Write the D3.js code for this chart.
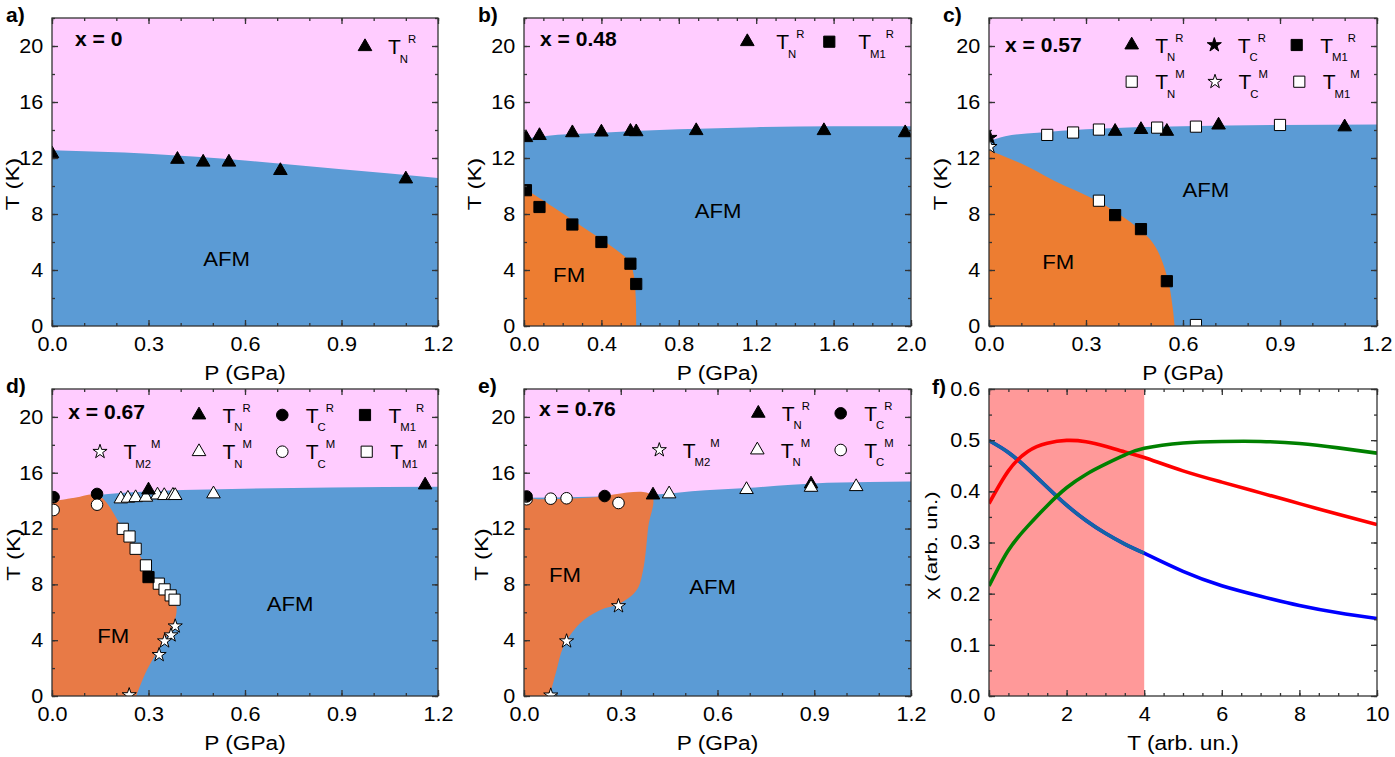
<!DOCTYPE html>
<html>
<head>
<meta charset="utf-8">
<script src="https://cdn.jsdelivr.net/npm/d3@7"></script>
<style>
  body { margin: 0; background: #fff; }
  svg text { font-family: "Liberation Sans", Arial, sans-serif; fill: #000; }
</style>
</head>
<body>
<svg id="fig" width="1395" height="757"></svg>
<script>
// ---- data: [P (GPa), T (K)] ----
// a) x = 0
const aTN_R = [[0, 12.3], [0.39, 11.9], [0.47, 11.7], [0.55, 11.7], [0.71, 11.1], [1.10, 10.5]];
const aAFM = [[0, 12.55], [0.3, 12.3], [0.6, 11.82], [0.9, 11.2], [1.2, 10.58]];

// b) x = 0.48
const bTN_R = [[0.01, 13.45], [0.08, 13.6], [0.25, 13.8], [0.40, 13.85], [0.55, 13.9], [0.58, 13.87], [0.89, 13.95], [1.55, 13.95], [1.97, 13.8]];
const bTM1_R = [[0.01, 9.7], [0.08, 8.5], [0.25, 7.25], [0.40, 6.0], [0.55, 4.45], [0.58, 3.0]];
const bAFM = [[0, 13.35], [0.1, 13.55], [0.4, 13.8], [0.8, 14.05], [1.2, 14.2], [1.6, 14.27], [2.0, 14.27]];
const bFM = [[0, 9.85], [0.25, 7.58], [0.5, 5.2], [0.548, 4.5], [0.569, 3.5], [0.578, 1.86], [0.58, 0]];

// c) x = 0.57
const cTN_R = [[0.39, 13.9], [0.47, 14.03], [0.55, 13.9], [0.71, 14.35], [1.10, 14.22]];
const cTC_R = [[0.003, 13.45]];
const cTM1_R = [[0.39, 7.92], [0.47, 6.92], [0.55, 3.2]];
const cTN_M = [[0.18, 13.65], [0.26, 13.82], [0.34, 14.03], [0.52, 14.17], [0.64, 14.24], [0.90, 14.36]];
const cTC_M = [[0.003, 12.8]];
const cTM1_M = [[0.34, 8.95], [0.64, 0.07]];
const cAFM = [[0, 13.2], [0.05, 13.55], [0.15, 13.8], [0.3, 14.05], [0.6, 14.27], [0.9, 14.36], [1.2, 14.4]];
const cFM = [[0, 12.56], [0.1, 11.6], [0.2, 10.4], [0.34, 8.87], [0.45, 7.2], [0.5, 6.14], [0.53, 4.95], [0.556, 3.04], [0.569, 1.14], [0.574, 0]];

// d) x = 0.67
const dTN_R = [[0.30, 14.76], [1.16, 15.12]];
const dTC_R = [[0.005, 14.25], [0.14, 14.48]];
const dTM1_R = [[0.30, 8.52]];
const dTM2_M = [[0.383, 5.0], [0.37, 4.36], [0.35, 3.93], [0.333, 2.95], [0.24, 0.07]];
const dTN_M = [[0.214, 14.12], [0.236, 14.17], [0.26, 14.21], [0.292, 14.24], [0.328, 14.4], [0.349, 14.36], [0.376, 14.38], [0.383, 14.36], [0.502, 14.48]];
const dTC_M = [[0.005, 13.33], [0.14, 13.71]];
const dTM1_M = [[0.22, 11.98], [0.241, 11.43], [0.26, 10.55], [0.292, 9.36], [0.332, 8.05], [0.35, 7.64], [0.369, 7.21], [0.381, 6.9]];
const dAFM = [[0, 13.9], [0.1, 14.28], [0.25, 14.6], [0.56, 14.83], [0.87, 14.95], [1.2, 15.0]];
const dFM = [[0, 13.92], [0.07, 14.2], [0.144, 14.38], [0.22, 12.0], [0.26, 10.55], [0.292, 9.36], [0.332, 8.05], [0.37, 7.2], [0.387, 6.4], [0.378, 5.19], [0.336, 3.52], [0.295, 1.86], [0.262, 0]];

// e) x = 0.76
const eTN_R = [[0.40, 14.4], [0.89, 15.19]];
const eTC_R = [[0.008, 14.3], [0.25, 14.33]];
const eTM2_M = [[0.083, 0.05], [0.132, 3.93], [0.293, 6.45]];
const eTN_M = [[0.45, 14.48], [0.69, 14.79], [0.89, 14.95], [1.03, 15.0]];
const eTC_M = [[0.008, 14.1], [0.083, 14.14], [0.132, 14.17], [0.293, 13.83]];
const eAFM = [[0, 14.2], [0.4, 14.42], [0.52, 14.67], [0.69, 14.9], [0.83, 15.14], [0.94, 15.29], [1.2, 15.38]];
const eFM = [[0, 14.25], [0.05, 14.1], [0.2, 14.2], [0.395, 14.4], [0.385, 12.1], [0.369, 9.0], [0.349, 7.57], [0.297, 6.62], [0.235, 6.14], [0.173, 5.19], [0.122, 3.52], [0.101, 1.86], [0.08, 0]];

// f) model susceptibility
const fT = [0, 0.5, 1, 1.5, 2, 2.5, 3, 3.5, 4, 5, 6, 7, 8, 9, 10];
const fRed = [0.376, 0.44, 0.478, 0.494, 0.4995, 0.497, 0.488, 0.477, 0.466, 0.44, 0.418, 0.397, 0.376, 0.355, 0.335];
const fGreen = [0.215, 0.285, 0.332, 0.372, 0.407, 0.433, 0.453, 0.471, 0.484, 0.4945, 0.4975, 0.4975, 0.4935, 0.485, 0.4746];
const fBlue = [0.4994, 0.476, 0.444, 0.408, 0.373, 0.343, 0.318, 0.297, 0.279, 0.2435, 0.2155, 0.195, 0.177, 0.1628, 0.1515];
const fShade = [0, 4];

// ---- layout ----
const SX = 1.08;
const cols = [[52, 438], [524, 911], [989, 1377]];
const rows = [[18, 326], [389, 696]];
const PINK = "#ffccff", BLUE = "#5b9bd5";
const AXC = "#333";

const svg = d3.select("#fig");
const defs = svg.append("defs");

const symbols = { tri: d3.symbolTriangle, sq: d3.symbolSquare, circ: d3.symbolCircle, star: d3.symbolStar };
const symSize = { tri: 80, sq: 125, circ: 105, star: 62 };

function txt(g, x, y, s, size, o = {}) {
  return g.append("text")
    .attr("transform", `translate(${x},${y}) ${o.rot ? "rotate(-90)" : ""} scale(${o.sx || SX},1)`)
    .attr("text-anchor", o.anchor || "start")
    .style("font-size", size + "px")
    .style("font-weight", o.bold ? "bold" : null)
    .text(s);
}

function marker(g, shape, filled) {
  return g.append("path")
    .attr("d", d3.symbol(symbols[shape], symSize[shape])())
    .attr("fill", filled ? "#000" : "#fff")
    .attr("stroke", "#000")
    .attr("stroke-width", 1);
}

function frame(g, x, y, w, h, xt, yt) {
  const style = s => {
    s.select(".domain").remove();
    s.selectAll("line").attr("stroke", AXC).attr("stroke-width", 1.3);
    s.selectAll("text").style("font-size", "20px").attr("fill", "#000")
      .attr("transform", `scale(${SX},1)`);
  };
  const rng = (step, max) => d3.range(0, max + step / 100, step);
  const xMin = rng(xt.minor, x.domain()[1]), xMaj = rng(xt.major, x.domain()[1]);
  const yMin = rng(yt.minor, y.domain()[1]), yMaj = rng(yt.major, y.domain()[1]).filter(v => v <= yt.lastLabel + 1e-9);

  g.append("g").attr("transform", `translate(0,${h})`).call(d3.axisBottom(x).tickValues(xMin).tickSize(-3).tickFormat("")).call(style);
  g.append("g").call(d3.axisTop(x).tickValues(xMin).tickSize(-3).tickFormat("")).call(style);
  g.append("g").call(d3.axisLeft(y).tickValues(yMin).tickSize(-3).tickFormat("")).call(style);
  g.append("g").attr("transform", `translate(${w},0)`).call(d3.axisRight(y).tickValues(yMin).tickSize(-3).tickFormat("")).call(style);

  g.append("g").attr("transform", `translate(0,${h})`)
    .call(d3.axisBottom(x).tickValues(xMaj).tickSize(-6).tickPadding(11).tickFormat(d3.format(xt.fmt))).call(style);
  g.append("g").call(d3.axisTop(x).tickValues(xMaj).tickSize(-6).tickFormat("")).call(style);
  g.append("g")
    .call(d3.axisLeft(y).tickValues(yMaj).tickSize(-6).tickPadding(8).tickFormat(d3.format(yt.fmt))).call(style);
  g.append("g").attr("transform", `translate(${w},0)`).call(d3.axisRight(y).tickValues(yMaj).tickSize(-6).tickFormat("")).call(style);

  g.append("rect").attr("width", w).attr("height", h)
    .attr("fill", "none").attr("stroke", AXC).attr("stroke-width", 1.3);
}

const phasePanels = [
  { id: "a", col: 0, row: 0, xMax: 1.2, xt: { major: 0.3, minor: 0.1, fmt: ".1f" }, comp: "x = 0", compAt: [75, 46],
    afm: aAFM, fm: null, fmColor: null,
    series: [[aTN_R, "tri", true]],
    legend: [{ shape: "tri", fill: true, sub: "N", sup: "R", x: 365, y: 46.7 }], gap: 23,
    afmAt: [0.543, 4.31], fmAt: null, yTitleX: 19 },
  { id: "b", col: 1, row: 0, xMax: 2.0, xt: { major: 0.4, minor: 0.1, fmt: ".1f" }, comp: "x = 0.48", compAt: [540, 46],
    afm: bAFM, fm: bFM, fmColor: "#ed7d31",
    series: [[bTN_R, "tri", true], [bTM1_R, "sq", true]],
    legend: [{ shape: "tri", fill: true, sub: "N", sup: "R", x: 747.3, y: 41.7 },
             { shape: "sq", fill: true, sub: "M1", sup: "R", x: 829.3, y: 41.7 }], gap: 29,
    afmAt: [1.003, 7.71], fmAt: [0.233, 3.16], yTitleX: 481 },
  { id: "c", col: 2, row: 0, xMax: 1.2, xt: { major: 0.3, minor: 0.1, fmt: ".1f" }, comp: "x = 0.57", compAt: [1005, 51.7],
    afm: cAFM, fm: cFM, fmColor: "#ed7d31",
    series: [[cTN_R, "tri", true], [cTN_M, "sq", false], [cTM1_R, "sq", true], [cTM1_M, "sq", false], [cTC_R, "star", true], [cTC_M, "star", false]],
    legend: [{ shape: "tri", fill: true, sub: "N", sup: "R", x: 1131.7, y: 45 },
             { shape: "star", fill: true, sub: "C", sup: "R", x: 1214.3, y: 45 },
             { shape: "sq", fill: true, sub: "M1", sup: "R", x: 1296.7, y: 45 },
             { shape: "sq", fill: false, sub: "N", sup: "M", x: 1131.7, y: 81.7 },
             { shape: "star", fill: false, sub: "C", sup: "M", x: 1215, y: 81.7 },
             { shape: "sq", fill: false, sub: "M1", sup: "M", x: 1299.3, y: 81.7 }], gap: 23.5,
    afmAt: [0.671, 9.24], fmAt: [0.214, 4.05], yTitleX: 947 },
  { id: "d", col: 0, row: 1, xMax: 1.2, xt: { major: 0.3, minor: 0.1, fmt: ".1f" }, comp: "x = 0.67", compAt: [68.3, 419.3],
    afm: dAFM, fm: dFM, fmColor: "#e87a46",
    series: [[dTN_M, "tri", false], [dTN_R, "tri", true], [dTM1_M, "sq", false], [dTM1_R, "sq", true],
             [dTM2_M, "star", false], [dTC_R, "circ", true], [dTC_M, "circ", false]],
    legend: [{ shape: "tri", fill: true, sub: "N", sup: "R", x: 199, y: 415 },
             { shape: "circ", fill: true, sub: "C", sup: "R", x: 282.3, y: 415 },
             { shape: "sq", fill: true, sub: "M1", sup: "R", x: 365, y: 415 },
             { shape: "star", fill: false, sub: "M2", sup: "M", x: 100, y: 451.7 },
             { shape: "tri", fill: false, sub: "N", sup: "M", x: 199, y: 451.7 },
             { shape: "circ", fill: false, sub: "C", sup: "M", x: 282.3, y: 451.7 },
             { shape: "sq", fill: false, sub: "M1", sup: "M", x: 366.7, y: 451.7 }], gap: 23.5,
    afmAt: [0.74, 6.11], fmAt: [0.19, 3.82], yTitleX: 20 },
  { id: "e", col: 1, row: 1, xMax: 1.2, xt: { major: 0.3, minor: 0.1, fmt: ".1f" }, comp: "x = 0.76", compAt: [539, 416],
    afm: eAFM, fm: eFM, fmColor: "#e87a46",
    series: [[eTN_R, "tri", true], [eTN_M, "tri", false], [eTM2_M, "star", false], [eTC_M, "circ", false], [eTC_R, "circ", true]],
    legend: [{ shape: "tri", fill: true, sub: "N", sup: "R", x: 758.3, y: 413.3 },
             { shape: "circ", fill: true, sub: "C", sup: "R", x: 840.7, y: 413.3 },
             { shape: "star", fill: false, sub: "M2", sup: "M", x: 659.3, y: 450 },
             { shape: "tri", fill: false, sub: "N", sup: "M", x: 757.3, y: 450 },
             { shape: "circ", fill: false, sub: "C", sup: "M", x: 840.7, y: 450 }], gap: 23.5,
    afmAt: [0.585, 7.31], fmAt: [0.127, 8.15], yTitleX: 488 }
];

function phasePanel(p) {
  const [x0, x1] = cols[p.col], [y0, y1] = rows[p.row];
  const w = x1 - x0, h = y1 - y0;
  const g = svg.append("g").attr("transform", `translate(${x0},${y0})`);
  const x = d3.scaleLinear().domain([0, p.xMax]).range([0, w]);
  const y = d3.scaleLinear().domain([0, 22]).range([h, 0]);

  defs.append("clipPath").attr("id", "clip-" + p.id)
    .append("rect").attr("width", w).attr("height", h);
  const body = g.append("g").attr("clip-path", `url(#clip-${p.id})`);

  body.append("rect").attr("width", w).attr("height", h).attr("fill", PINK);
  body.append("path").datum(p.afm)
    .attr("fill", BLUE)
    .attr("d", d3.area().x(d => x(d[0])).y0(h).y1(d => y(d[1])).curve(d3.curveMonotoneX));
  if (p.fm) {
    const edge = d3.line().x(d => x(d[0])).y(d => y(d[1])).curve(d3.curveCatmullRom.alpha(0.5))(p.fm);
    body.append("path").attr("fill", p.fmColor)
      .attr("d", edge + `L${x(0)},${y(0)}Z`);
  }

  frame(g, x, y, w, h, p.xt, { major: 4, minor: 2, fmt: "d", lastLabel: 20 });

  p.series.forEach(([data, shape, filled]) => {
    data.forEach(d => {
      marker(body, shape, filled).attr("transform", `translate(${x(d[0])},${y(d[1])})`);
    });
  });

  // phase labels
  txt(g, x(p.afmAt[0]), y(p.afmAt[1]), "AFM", 20.5, { anchor: "middle" });
  if (p.fmAt) txt(g, x(p.fmAt[0]), y(p.fmAt[1]), "FM", 20.5, { anchor: "middle" });

  // composition + panel tag
  txt(svg, p.compAt[0], p.compAt[1], p.comp, 19.5, { bold: true });
  txt(svg, x0 - 46, y0 + 4, p.id + ")", 19.5, { bold: true });

  // legend
  p.legend.forEach(l => {
    marker(svg, l.shape, l.fill).attr("transform", `translate(${l.x},${l.y})`);
    const t = svg.append("text")
      .attr("transform", `translate(${l.x + p.gap},${l.y + 7.6}) scale(${SX},1)`)
      .style("font-size", "19.5px");
    t.append("tspan").text("T");
    t.append("tspan").attr("dx", -1).attr("dy", 8.5).style("font-size", "10.5px").text(l.sub);
    t.append("tspan").attr("dy", -19.5).style("font-size", "10.5px").text(l.sup);
  });

  // axis titles
  txt(svg, (x0 + x1) / 2, y1 + 54, "P (GPa)", 21, { anchor: "middle" });
  txt(svg, p.yTitleX, (y0 + y1) / 2 + 12, "T (K)", 19, { anchor: "middle", rot: true, sx: 1.25 });
}

phasePanels.forEach(phasePanel);

// ---- f) susceptibility panel ----
(function () {
  const [x0, x1] = cols[2], [y0, y1] = rows[1];
  const w = x1 - x0, h = y1 - y0;
  const g = svg.append("g").attr("transform", `translate(${x0},${y0})`);
  const x = d3.scaleLinear().domain([0, 10]).range([0, w]);
  const y = d3.scaleLinear().domain([0, 0.6]).range([h, 0]);

  defs.append("clipPath").attr("id", "clip-f").append("rect").attr("width", w).attr("height", h);
  const body = g.append("g").attr("clip-path", "url(#clip-f)");

  body.append("rect").attr("x", x(fShade[0])).attr("width", x(fShade[1]) - x(fShade[0]))
    .attr("height", h).attr("fill", "#ff9999");

  const line = d3.line().x(d => x(d[0])).y(d => y(d[1])).curve(d3.curveNatural);
  const pts = vals => fT.map((t, i) => [t, vals[i]]);
  body.append("path").attr("d", line(pts(fBlue))).attr("fill", "none").attr("stroke", "#0000ff").attr("stroke-width", 3.6);
  body.append("path").attr("d", line(pts(fBlue).filter(d => d[0] <= fShade[1]))).attr("fill", "none")
    .attr("stroke", "#1565a5").attr("stroke-width", 3.6);
  body.append("path").attr("d", line(pts(fRed))).attr("fill", "none").attr("stroke", "#ff0000").attr("stroke-width", 3.6);
  body.append("path").attr("d", line(pts(fGreen))).attr("fill", "none").attr("stroke", "#008000").attr("stroke-width", 3.6);

  frame(g, x, y, w, h, { major: 2, minor: 0.5, fmt: "d" }, { major: 0.1, minor: 0.05, fmt: ".1f", lastLabel: 0.6 });

  txt(svg, x0 - 57, y0 + 5, "f)", 19.5, { bold: true });
  txt(svg, (x0 + x1) / 2, y1 + 54, "T (arb. un.)", 21, { anchor: "middle" });
  txt(svg, 937, (y0 + y1) / 2 + 3, "\u03c7 (arb. un.)", 16.5, { anchor: "middle", rot: true, sx: 1.35 });
})();
</script>
</body>
</html>
